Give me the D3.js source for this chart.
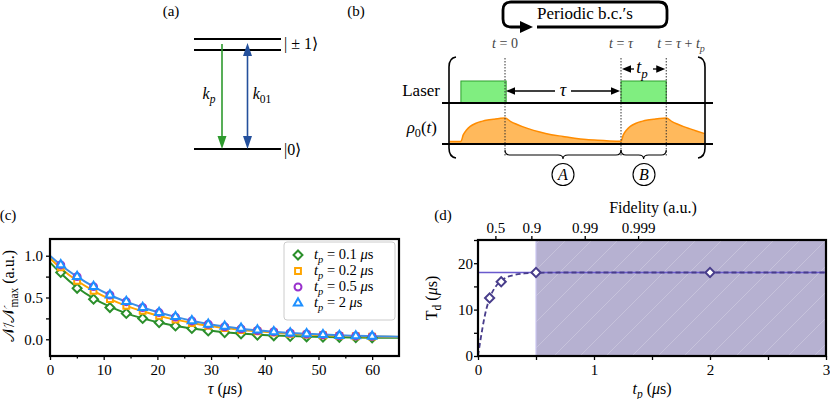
<!DOCTYPE html>
<html>
<head>
<meta charset="utf-8">
<script src="https://cdn.jsdelivr.net/npm/d3@7"></script>
<style>
body { margin: 0; background: #fff; }
text { font-family: 'Liberation Serif', serif; }
</style>
</head>
<body>
<svg id="fig" width="830" height="399"></svg>
<script>
// ---- data (c): normalised counts vs tau, one series per pulse length
const tau = [2.0, 5.05, 8.11, 11.16, 14.21, 17.26, 20.32, 23.37, 26.42, 29.47,
             32.53, 35.58, 38.63, 41.68, 44.74, 47.79, 50.84, 53.89, 56.95, 60.0];
const n01 = [0.80, 0.61, 0.48, 0.38, 0.31, 0.25, 0.20, 0.16, 0.13, 0.10,
             0.08, 0.065, 0.05, 0.042, 0.035, 0.03, 0.026, 0.023, 0.02, 0.018];
const n02 = [0.86, 0.70, 0.58, 0.48, 0.40, 0.34, 0.28, 0.235, 0.195, 0.16,
             0.135, 0.11, 0.095, 0.08, 0.065, 0.055, 0.048, 0.04, 0.036, 0.032];
const n05 = [0.89, 0.75, 0.63, 0.53, 0.45, 0.38, 0.32, 0.265, 0.22, 0.18,
             0.15, 0.125, 0.105, 0.09, 0.075, 0.063, 0.053, 0.045, 0.04, 0.035];
const n2  = [0.89, 0.75, 0.63, 0.53, 0.45, 0.38, 0.32, 0.27, 0.22, 0.18,
             0.155, 0.13, 0.11, 0.09, 0.075, 0.065, 0.055, 0.045, 0.04, 0.035];
// fitted curves
const fitTau = [0, 2.0, 5.05, 8.11, 11.16, 14.21, 17.26, 20.32, 23.37, 26.42, 29.47,
                32.53, 35.58, 38.63, 41.68, 44.74, 47.79, 50.84, 53.89, 56.95, 60.0, 65];
const fit01 = [0.92, 0.79, 0.62, 0.49, 0.39, 0.31, 0.25, 0.20, 0.16, 0.13, 0.105,
               0.085, 0.068, 0.055, 0.045, 0.038, 0.032, 0.027, 0.024, 0.021, 0.019, 0.017];
const fit02 = [0.97, 0.85, 0.70, 0.58, 0.48, 0.40, 0.335, 0.28, 0.235, 0.195, 0.162,
               0.135, 0.112, 0.095, 0.08, 0.067, 0.057, 0.049, 0.042, 0.037, 0.033, 0.028];
const fit2  = [1.0, 0.89, 0.75, 0.63, 0.53, 0.45, 0.38, 0.32, 0.268, 0.222, 0.183,
               0.152, 0.127, 0.107, 0.09, 0.076, 0.065, 0.056, 0.048, 0.042, 0.037, 0.031];
const legendTp = ['0.1', '0.2', '0.5', '2'];

// ---- data (d): decay time vs pulse length
const tpData = [0.1, 0.2, 0.5, 2.0];
const tdData = [12.5, 16.0, 18.0, 18.0];
const tdFitTp = [0, 0.025, 0.05, 0.075, 0.1, 0.15, 0.2, 0.25, 0.3, 0.4, 0.5, 0.75, 1.0, 2.0, 3.0];
const tdFitVal = [0, 4.0, 7.6, 10.4, 12.4, 14.9, 16.2, 17.0, 17.4, 17.8, 17.9, 18.0, 18.0, 18.0, 18.0];
const tdLevel = 18;
const fidPos = [0.15, 0.46, 0.92, 1.38];
const fidLabels = ['0.5', '0.9', '0.99', '0.999'];

// ---- data (b): schematic rho_0(t), t in units of tau
const rhoT = [-0.48, -0.38, -0.36, -0.33, -0.30, -0.25, -0.20, -0.15, -0.10, -0.05, 0,
              0.05, 0.10, 0.15, 0.20, 0.30, 0.40, 0.50, 0.60, 0.70, 0.80, 0.90, 1.0,
              1.02, 1.05, 1.08, 1.13, 1.18, 1.23, 1.28, 1.33, 1.39,
              1.44, 1.49, 1.54, 1.59, 1.65, 1.72];
const rhoV = [0.10, 0.10, 0.35, 0.55, 0.68, 0.80, 0.87, 0.92, 0.95, 0.98, 1.0,
              0.86, 0.76, 0.67, 0.59, 0.46, 0.36, 0.29, 0.22, 0.17, 0.14, 0.12, 0.11,
              0.35, 0.55, 0.68, 0.80, 0.87, 0.92, 0.95, 0.98, 1.0,
              0.86, 0.76, 0.67, 0.59, 0.50, 0.40];
const pulseT = [-0.38, 1.0];
const tpSchem = 0.39;

const green = '#2b8f2b', orange = '#ffa500', purple = '#9932cc', blue = '#1e90ff';
const navy = '#483d8b';
const FONT = "'Liberation Serif'";

const svg = d3.select('#fig');
const defs = svg.append('defs');

// text with italic / subscript parts: [[text, style]], style: i, s, is
function tex(sel, x, y, parts, size, anchor) {
  const t = sel.append('text').attr('x', x).attr('y', y)
    .style('font-family', FONT).attr('font-size', size)
    .attr('text-anchor', anchor || 'start');
  parts.forEach((p, k) => {
    const st = p[1] || '';
    const sub = st.indexOf('s') >= 0;
    const prev = k > 0 && (parts[k - 1][1] || '').indexOf('s') >= 0;
    const s = t.append('tspan').text(p[0]);
    if (sub && !prev) s.attr('dy', size * 0.25);
    if (!sub && prev) s.attr('dy', -size * 0.25);
    if (st.indexOf('i') >= 0) s.attr('font-style', 'italic');
    if (sub) s.attr('font-size', size * 0.72);
  });
  return t;
}

function head(sel, x, y, ang, len, hw, color) {
  const c = Math.cos(ang), s = Math.sin(ang);
  const bx = x - c * len, by = y - s * len;
  const pts = [[x, y], [bx - s * hw, by + c * hw], [bx + s * hw, by - c * hw]];
  sel.append('path').attr('d', 'M' + pts.join('L') + 'Z').attr('fill', color);
}

// ================= (a) level scheme
const ga = svg.append('g');
tex(ga, 171, 16, [['(a)']], 15, 'middle');
[39, 50, 149].forEach(y => {
  ga.append('line').attr('x1', 194).attr('x2', 281).attr('y1', y).attr('y2', y)
    .attr('stroke', '#000').attr('stroke-width', 2.2);
});
const aGreen = '#2e9a2e', aBlue = '#24509c';
ga.append('line').attr('x1', 222).attr('x2', 222).attr('y1', 44).attr('y2', 138)
  .attr('stroke', aGreen).attr('stroke-width', 1.6);
head(ga, 222, 149, Math.PI / 2, 13, 4.5, aGreen);
ga.append('line').attr('x1', 247.5).attr('x2', 247.5).attr('y1', 54).attr('y2', 138)
  .attr('stroke', aBlue).attr('stroke-width', 1.6);
head(ga, 247.5, 43, -Math.PI / 2, 13, 4.5, aBlue);
head(ga, 247.5, 149, Math.PI / 2, 13, 4.5, aBlue);
tex(ga, 209, 99, [['k', 'i'], ['p', 'is']], 16, 'middle');
tex(ga, 262, 99, [['k', 'i'], ['01', 's']], 16, 'middle');
tex(ga, 284, 49, [['| ± 1⟩']], 16);
tex(ga, 284, 155, [['|0⟩']], 16);

// ================= (b) pulse sequence schematic
const gb = svg.append('g');
tex(gb, 356, 16, [['(b)']], 15, 'middle');
const xb = d3.scaleLinear().domain([0, 1]).range([505, 621]);
const yb = d3.scaleLinear().domain([0, 1]).range([144, 118]);
const laserY = 103, laserTop = 81;

// periodic boundary condition box
gb.append('path')
  .attr('d', 'M537,27 L659,27 Q667,27 667,19 L667,10 Q667,2 659,2 L511,2 Q503,2 503,10 L503,19 Q503,27 511,27 L521,27')
  .attr('fill', 'none').attr('stroke', '#000').attr('stroke-width', 2.8);
head(gb, 533, 27, 0, 13, 6, '#000');
tex(gb, 585, 19, [['Periodic b.c.′s']], 17, 'middle');

// time labels
tex(gb, xb(0), 48, [['t', 'i'], [' = 0']], 14, 'middle').attr('fill', '#444');
tex(gb, xb(1), 48, [['t', 'i'], [' = '], ['τ', 'i']], 14, 'middle').attr('fill', '#444');
tex(gb, 681, 48, [['t', 'i'], [' = '], ['τ', 'i'], [' + '], ['t', 'i'], ['p', 'is']], 14, 'middle').attr('fill', '#444');

// rho area
const area = d3.area().x((d, i) => xb(rhoT[i])).y0(yb(0)).y1(d => yb(d)).curve(d3.curveMonotoneX);
gb.append('path').datum(rhoV).attr('d', area).attr('fill', '#ffb95c');
const rline = d3.line().x((d, i) => xb(rhoT[i])).y(d => yb(d)).curve(d3.curveMonotoneX);
gb.append('path').datum(rhoV).attr('d', rline).attr('fill', 'none')
  .attr('stroke', '#ff8c00').attr('stroke-width', 1.5);

// laser pulses
pulseT.forEach(t0 => {
  gb.append('rect').attr('x', xb(t0)).attr('y', laserTop)
    .attr('width', xb(t0 + tpSchem) - xb(t0)).attr('height', laserY - laserTop)
    .attr('fill', '#80ee80').attr('stroke', '#2ca02c').attr('stroke-width', 1);
});

// dotted markers
[0, 1, 1 + tpSchem].forEach(t => {
  gb.append('line').attr('x1', xb(t)).attr('x2', xb(t)).attr('y1', 58).attr('y2', 157)
    .attr('stroke', '#333').attr('stroke-width', 1).attr('stroke-dasharray', '1.5,1.5');
});

// baselines
[laserY, 144].forEach(y => {
  gb.append('line').attr('x1', 442).attr('x2', 713).attr('y1', y).attr('y2', y)
    .attr('stroke', '#000').attr('stroke-width', 2);
});

// brackets
gb.append('path').attr('d', 'M456,57 Q449,58 449,67 L449,148 Q449,157 456,158')
  .attr('fill', 'none').attr('stroke', '#000').attr('stroke-width', 1.6);
gb.append('path').attr('d', 'M698,57 Q705,58 705,67 L705,148 Q705,157 698,158')
  .attr('fill', 'none').attr('stroke', '#000').attr('stroke-width', 1.6);

// tau and tp arrows
function dbl(x1, x2, y) {
  gb.append('line').attr('x1', x1 + 8).attr('x2', x2 - 8).attr('y1', y).attr('y2', y)
    .attr('stroke', '#000').attr('stroke-width', 1.3);
  head(gb, x1 + 1, y, Math.PI, 9, 3.8, '#000');
  head(gb, x2 - 1, y, 0, 9, 3.8, '#000');
}
dbl(xb(0), xb(1), 91);
gb.append('rect').attr('x', 555).attr('y', 83).attr('width', 16).attr('height', 15).attr('fill', '#fff');
tex(gb, xb(0.5), 96, [['τ', 'i']], 18, 'middle');
dbl(xb(1), xb(1 + tpSchem), 69);
gb.append('rect').attr('x', 634).attr('y', 60).attr('width', 19).attr('height', 18).attr('fill', '#fff');
tex(gb, 642, 73, [['t', 'i'], ['p', 'is']], 18, 'middle');

tex(gb, 440, 96, [['Laser']], 17, 'end');
tex(gb, 437, 133, [['ρ', 'i'], ['0', 's'], ['(', ''], ['t', 'i'], [')']], 17, 'end');

// curly braces + circled labels
function brace(x1, x2, yt) {
  const xm = (x1 + x2) / 2;
  gb.append('path')
    .attr('d', `M${x1},${yt} Q${x1},${yt + 5} ${x1 + 5},${yt + 5} L${xm - 5},${yt + 5} Q${xm},${yt + 5} ${xm},${yt + 9} Q${xm},${yt + 5} ${xm + 5},${yt + 5} L${x2 - 5},${yt + 5} Q${x2},${yt + 5} ${x2},${yt}`)
    .attr('fill', 'none').attr('stroke', '#000').attr('stroke-width', 1.1);
}
brace(xb(0), xb(1), 150);
brace(xb(1), xb(1 + tpSchem), 150);
[['A', 563], ['B', 644]].forEach(d => {
  gb.append('circle').attr('cx', d[1]).attr('cy', 174.5).attr('r', 11)
    .attr('fill', 'none').attr('stroke', '#000').attr('stroke-width', 1.1);
  tex(gb, d[1], 180, [[d[0], 'i']], 16, 'middle');
});

// ================= (c) counts vs tau
const gc = svg.append('g');
const xc = d3.scaleLinear().domain([0, 65]).range([50, 399]);
const yc = d3.scaleLinear().domain([-0.2, 1.2]).range([356, 239]);
tex(gc, 8, 220, [['(c)']], 15, 'middle');

gc.append('g').attr('transform', 'translate(0,356)')
  .call(d3.axisBottom(xc).tickValues([0, 10, 20, 30, 40, 50, 60]).tickSize(4).tickPadding(4).tickSizeOuter(0));
gc.append('g').attr('transform', 'translate(0,356)')
  .call(d3.axisBottom(xc).tickValues([5, 15, 25, 35, 45, 55]).tickSize(2.5).tickFormat('').tickSizeOuter(0));
gc.append('g').attr('transform', 'translate(50,0)')
  .call(d3.axisLeft(yc).tickValues([0, 0.25, 0.5, 0.75, 1.0]).tickSize(4).tickPadding(3)
    .tickFormat(d => (d * 2) % 1 === 0 ? d.toFixed(1) : '').tickSizeOuter(0));

const plotc = gc.append('g');
const fitLine = vals => d3.line().x((d, i) => xc(fitTau[i])).y(d => yc(d)).curve(d3.curveMonotoneX)(vals);
[[fit01, green], [fit02, orange], [fit2, '#3c8fe6']].forEach(f => {
  plotc.append('path').attr('d', fitLine(f[0])).attr('fill', 'none')
    .attr('stroke', f[1]).attr('stroke-width', 2);
});

const series = [
  { v: n01, c: green, sym: d3.symbolSquare, size: 40, rot: 45 },
  { v: n02, c: orange, sym: d3.symbolSquare, size: 34, rot: 0 },
  { v: n05, c: purple, sym: d3.symbolCircle, size: 38, rot: 0 },
  { v: n2, c: blue, sym: d3.symbolTriangle, size: 30, rot: 0 }
];
series.forEach(s => {
  plotc.selectAll(null).data(s.v).join('path')
    .attr('d', d3.symbol(s.sym, s.size))
    .attr('transform', (d, i) => `translate(${xc(tau[i])},${yc(d)}) rotate(${s.rot})`)
    .attr('fill', '#fff').attr('stroke', s.c).attr('stroke-width', 2);
});

// legend
const lg = gc.append('g');
lg.append('rect').attr('x', 284).attr('y', 242).attr('width', 111).attr('height', 78).attr('rx', 3)
  .attr('fill', '#fff').attr('fill-opacity', 0.85).attr('stroke', '#ccc').attr('stroke-width', 1);
series.forEach((s, i) => {
  const y = 255 + i * 16;
  lg.append('path').attr('d', d3.symbol(s.sym, s.size))
    .attr('transform', `translate(298,${y}) rotate(${s.rot})`)
    .attr('fill', '#fff').attr('stroke', s.c).attr('stroke-width', 2);
  tex(lg, 314, y + 4, [['t', 'i'], ['p', 'is'], [' = ' + legendTp[i] + ' '], ['μ', 'i'], ['s']], 14.5);
});

gc.append('rect').attr('x', 50).attr('y', 239).attr('width', 349).attr('height', 117)
  .attr('fill', 'none').attr('stroke', '#000').attr('stroke-width', 2.2);
tex(gc, 225, 394, [['τ', 'i'], [' ('], ['μ', 'i'], ['s)']], 16, 'middle');
tex(gc, 0, 0, [['𝒩/𝒩'], ['max', 's'], [' (a.u.)']], 16, 'middle')
  .attr('transform', 'translate(14,296) rotate(-90)');

// ================= (d) decay time vs tp
const gd = svg.append('g');
const xd = d3.scaleLinear().domain([0, 3]).range([478, 826]);
const yd = d3.scaleLinear().domain([0, 25]).range([356, 240]);
const pat = defs.append('pattern').attr('id', 'hatch').attr('patternUnits', 'userSpaceOnUse')
  .attr('width', 26).attr('height', 26);
pat.append('path').attr('d', 'M0,26 L26,0 M-6,6 L6,-6 M20,32 L32,20')
  .attr('stroke', '#fff').attr('stroke-opacity', 0.22).attr('stroke-width', 1);

tex(gd, 443, 220, [['(d)']], 15, 'middle');
tex(gd, 653, 213, [['Fidelity (a.u.)']], 16, 'middle');

const plotd = gd.append('g');
plotd.append('rect').attr('x', xd(0.5)).attr('y', 240).attr('width', xd(3) - xd(0.5)).attr('height', 116)
  .attr('fill', navy).attr('fill-opacity', 0.4);
plotd.append('rect').attr('x', xd(0.5)).attr('y', 240).attr('width', xd(3) - xd(0.5)).attr('height', 116)
  .attr('fill', 'url(#hatch)');
plotd.append('line').attr('x1', xd(0.5)).attr('x2', xd(0.5)).attr('y1', 240).attr('y2', 356)
  .attr('stroke', '#cbc6f2').attr('stroke-width', 1.2);
plotd.append('line').attr('x1', xd(0)).attr('x2', xd(3)).attr('y1', yd(tdLevel)).attr('y2', yd(tdLevel))
  .attr('stroke', '#6a5acd').attr('stroke-width', 1.3);
const dline = d3.line().x((d, i) => xd(tdFitTp[i])).y(d => yd(d)).curve(d3.curveMonotoneX);
plotd.append('path').datum(tdFitVal).attr('d', dline).attr('fill', 'none')
  .attr('stroke', navy).attr('stroke-width', 1.8).attr('stroke-dasharray', '5,3');
plotd.selectAll(null).data(tdData).join('path')
  .attr('d', d3.symbol(d3.symbolSquare, 42))
  .attr('transform', (d, i) => `translate(${xd(tpData[i])},${yd(d)}) rotate(45)`)
  .attr('fill', '#fff').attr('stroke', navy).attr('stroke-width', 2);

gd.append('g').attr('transform', 'translate(0,356)')
  .call(d3.axisBottom(xd).tickValues([0, 0.5, 1, 1.5, 2, 2.5, 3]).tickSize(4).tickPadding(4)
    .tickFormat(d => d % 1 === 0 ? d3.format('d')(d) : '').tickSizeOuter(0));
gd.append('g').attr('transform', 'translate(478,0)')
  .call(d3.axisLeft(yd).tickValues([0, 5, 10, 15, 20, 25]).tickSize(4).tickPadding(1)
    .tickFormat(d => d % 10 === 0 ? d : '').tickSizeOuter(0));
gd.append('g').attr('transform', 'translate(0,240)')
  .call(d3.axisTop(xd).tickValues(fidPos).tickSize(4).tickPadding(3)
    .tickFormat((d, i) => fidLabels[i]).tickSizeOuter(0));

gd.append('rect').attr('x', 478).attr('y', 240).attr('width', 348).attr('height', 116)
  .attr('fill', 'none').attr('stroke', '#000').attr('stroke-width', 2.2);
tex(gd, 652, 394, [['t', 'i'], ['p', 'is'], [' ('], ['μ', 'i'], ['s)']], 16, 'middle');
tex(gd, 0, 0, [['T'], ['d', 's'], [' ('], ['μ', 'i'], ['s)']], 16, 'middle')
  .attr('transform', 'translate(437,298) rotate(-90)');

// axis styling
svg.selectAll('.domain').remove();
svg.selectAll('.tick line').attr('stroke', '#000').attr('stroke-width', 1.3);
svg.selectAll('.tick text').attr('font-size', 15).style('font-family', FONT).attr('fill', '#000');
</script>
</body>
</html>
